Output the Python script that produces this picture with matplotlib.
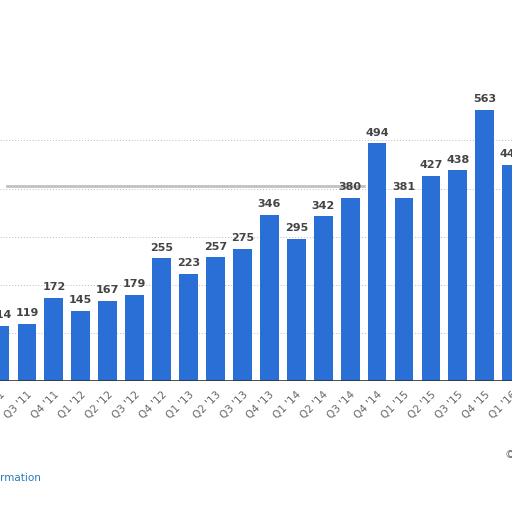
import matplotlib
matplotlib.use("Agg")
import matplotlib.pyplot as plt

categories = ["Q2 '11","Q3 '11","Q4 '11","Q1 '12","Q2 '12","Q3 '12","Q4 '12","Q1 '13","Q2 '13","Q3 '13",
              "Q4 '13","Q1 '14","Q2 '14","Q3 '14","Q4 '14","Q1 '15","Q2 '15","Q3 '15","Q4 '15","Q1 '16"]
values = [114,119,172,145,167,179,255,223,257,275,346,295,342,380,494,381,427,438,563,449]

fig = plt.figure(figsize=(5.12,5.12), dpi=100)
ax = fig.add_axes([0, 1-381/512, 1, 381/512])
x = list(range(len(values)))
ax.bar(x, values, width=0.7, color="#2a6fd6", zorder=3)
for xi, v in zip(x, values):
    ax.text(xi, v+12, str(v), ha="center", va="bottom", fontsize=8, fontweight="bold", color="#444444", zorder=4)
ax.set_xlim(0.256, 19.01)
ax.set_ylim(0, 792)
for g in [100,200,300,400,500]:
    ax.axhline(g, color="#bbbbbb", ls=(0,(1,2)), lw=0.7, zorder=1)
ax.axhline(0, color="#333333", lw=1.2, zorder=5)
ax.plot([0.256, 13.5], [405, 405], color="#999999", lw=2, alpha=0.6, zorder=2)
for s in ax.spines.values():
    s.set_visible(False)
ax.set_yticks([])
ax.set_xticks(x)
ax.set_xticklabels(categories, rotation=45, ha="right", rotation_mode="anchor", fontsize=7.5, color="#666666")
ax.tick_params(axis="x", length=0, pad=6)
fig.text(0.0, 1-478/512, "rmation", color="#2a7ab8", fontsize=7.5, va="center")
fig.text(0.985, 1-455/512, "©", color="#666666", fontsize=8, va="center")
fig.savefig("out.png", dpi=100)
